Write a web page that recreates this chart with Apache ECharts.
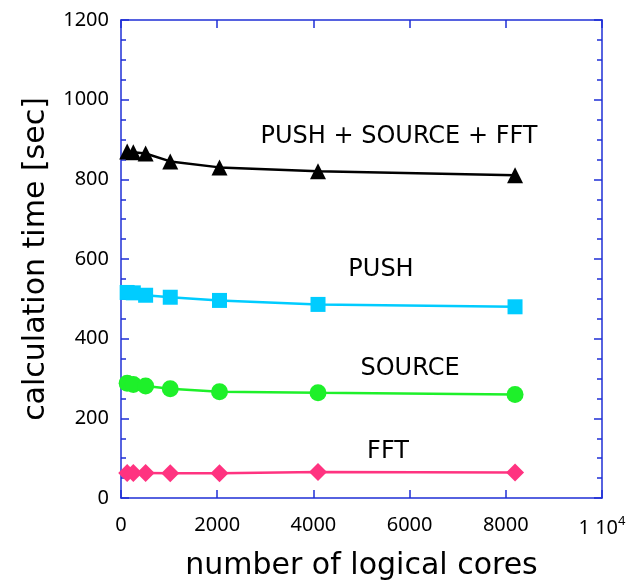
<!DOCTYPE html>
<html>
<head>
<meta charset="utf-8">
<script src="https://cdn.jsdelivr.net/npm/echarts@6/dist/echarts.min.js"></script>
<style>html,body{margin:0;padding:0;background:#fff}#c{width:636px;height:586px}</style>
</head>
<body>
<div id="c"></div>
<script>
const cores = [128, 256, 512, 1024, 2048, 4096, 8192];
const total = [870, 868, 865, 845, 830, 820, 810];
const push = [516, 515, 509, 504, 496, 486, 480];
const source = [288, 285, 281, 274, 267, 264, 260];
const fft = [63, 63, 63, 62, 62, 65, 64];
const yTicks = [0, 200, 400, 600, 800, 1000, 1200];
const xTicks = [0, 2000, 4000, 6000, 8000, 10000];
const labels = [
  {text: 'PUSH + SOURCE + FFT', x: 399, y: 137},
  {text: 'PUSH', x: 381, y: 270},
  {text: 'SOURCE', x: 410, y: 369},
  {text: 'FFT', x: 388, y: 452}
];

const FONT = 'DejaVu Sans';
const TFONT = 'Noto Sans';
const AX = '#1f2fd6';
const pair = a => cores.map((c, i) => [c, a[i]]);

const chart = echarts.init(document.getElementById('c'), null, {renderer: 'canvas'});
const axisLine = {show: true, onZero: false, lineStyle: {color: AX, width: 1.5}};
const baseX = {
  type: 'value', min: xTicks[0], max: xTicks[xTicks.length - 1], interval: 2000,
  axisLine, splitLine: {show: false},
  axisTick: {show: true, inside: true, length: 8, lineStyle: {color: AX, width: 1.5}}
};
const baseY = {
  type: 'value', min: yTicks[0], max: yTicks[yTicks.length - 1], interval: 200,
  axisLine, splitLine: {show: false},
  axisTick: {show: true, inside: true, length: 8, lineStyle: {color: AX, width: 1.5}},
  minorTick: {show: true, splitNumber: 4, length: 5, lineStyle: {color: AX, width: 1.5}}
};
function mk(name, data, color, symbol, size) {
  return {
    name, type: 'line', data: pair(data), xAxisIndex: 0, yAxisIndex: 0,
    symbol, symbolSize: size, showSymbol: true,
    lineStyle: {color, width: 2.5}, itemStyle: {color},
    animation: false, z: 3
  };
}
chart.setOption({
  animation: false,
  grid: {left: 121, right: 34, top: 20, bottom: 86},
  xAxis: [
    Object.assign({}, baseX, {
      position: 'bottom',
      name: 'number of logical cores', nameLocation: 'middle', nameGap: 53,
      nameTextStyle: {fontFamily: FONT, fontSize: 30, color: '#000'},
      axisLabel: {
        fontFamily: TFONT, fontSize: 20, color: '#000', margin: 17,
        formatter: v => v === 10000 ? '{a|1 10}{b|4}' : String(v),
        rich: {a: {fontFamily: TFONT, fontSize: 20, color: '#000'},
               b: {fontFamily: TFONT, fontSize: 13, color: '#000', padding: [0, 0, 13, 0]}}
      }
    }),
    Object.assign({}, baseX, {position: 'top', axisLabel: {show: false}})
  ],
  yAxis: [
    Object.assign({}, baseY, {
      position: 'left',
      name: 'calculation time [sec]', nameLocation: 'middle', nameGap: 70,
      nameTextStyle: {fontFamily: FONT, fontSize: 30, color: '#000'},
      axisLabel: {fontFamily: TFONT, fontSize: 20, color: '#000', margin: 12,
                  formatter: v => String(v)}
    }),
    Object.assign({}, baseY, {position: 'right', axisLabel: {show: false}})
  ],
  series: [
    mk('PUSH + SOURCE + FFT', total, '#000000', 'triangle', 16),
    mk('PUSH', push, '#00ccff', 'rect', 15),
    mk('SOURCE', source, '#1ef02a', 'circle', 17),
    mk('FFT', fft, '#ff3380', 'diamond', 18)
  ],
  graphic: labels.map(l => ({
    type: 'text', x: l.x, y: l.y, z: 10,
    style: {text: l.text, fontFamily: FONT, fontSize: 24, fill: '#000',
            textAlign: 'center', textVerticalAlign: 'middle'}
  }))
});
</script>
</body>
</html>
